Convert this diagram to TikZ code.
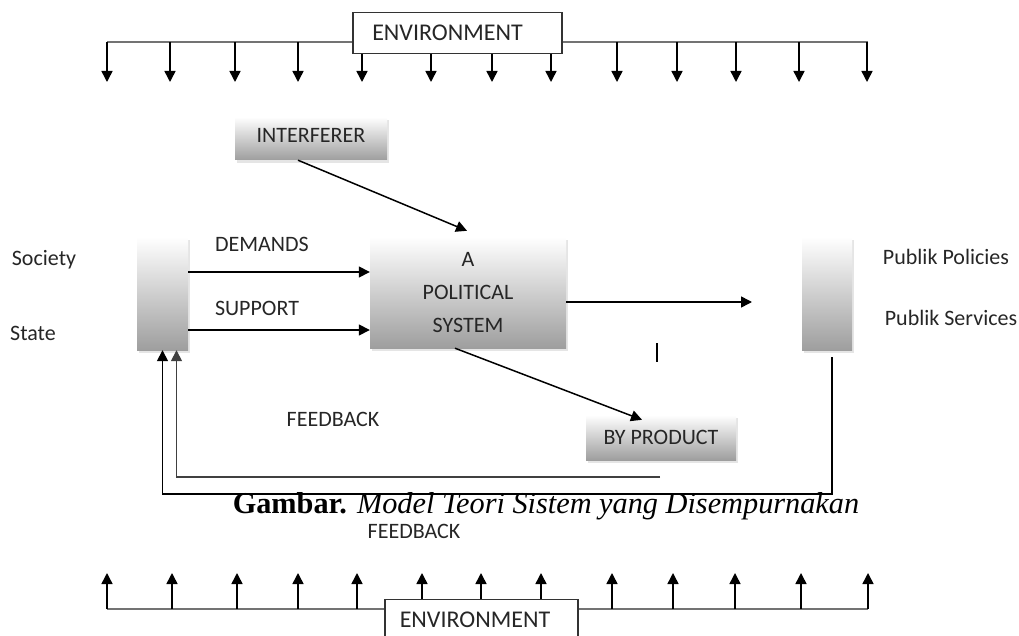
\documentclass[tikz,border=0pt]{standalone}
\usepackage{fontspec}
\setmainfont{Carlito}
\newfontfamily\capfont{Liberation Serif}
\usetikzlibrary{arrows.meta,shadows}

\begin{document}
\begin{tikzpicture}[x=1pt,y=-1pt,
  txt/.style={font=\fontsize{22}{26}\selectfont, text=black!85, inner sep=0pt},
  envbox/.style={draw=black!80, line width=1.2pt, fill=white, inner sep=0pt,
    font=\fontsize{24}{28}\selectfont, text=black!85, minimum width=#1, minimum height=41pt},
  gbox/.style={top color=white, bottom color=black!38, inner sep=0pt,
    drop shadow={shadow xshift=2pt, shadow yshift=-3pt, opacity=.25, fill=black!40}},
  envline/.style={draw=black!55, line width=2pt},
  arr/.style={draw=black, line width=1.5pt, -{Triangle[length=11pt,width=11pt]}},
  fbline/.style={arr, draw=black!75},
]
\useasboundingbox (0,0) rectangle (1019,636);

% environment bar above the system
\node[envbox=209pt] (envtop) at (457.5,33) {\hspace*{-20pt}ENVIRONMENT};
\draw[envline] (107,42) -- (envtop.west |- 0,42);
\draw[envline] (envtop.east |- 0,42) -- (868,42);
\foreach \x in {107,170,235,298,617,677,736,799,867}
  \draw[arr] (\x,42) -- (\x,82);
\foreach \x in {362,431,492,551}
  \draw[arr] (envtop.south -| \x,0) -- (\x,82);

% environment bar below the system
\node[envbox=193pt, anchor=north] (envbot) at (481.5,599) {\hspace*{-13pt}\raisebox{-6pt}{ENVIRONMENT}};
\draw[envline] (107,609) -- (envbot.west |- 0,609);
\draw[envline] (envbot.east |- 0,609) -- (868,609);
\foreach \x in {107,172,237,298,357,612,673,735,801,868}
  \draw[arr] (\x,609) -- (\x,573);
\foreach \x in {422,481,541}
  \draw[arr] (envbot.north -| \x,0) -- (\x,573);

% shaded boxes
\node[gbox, minimum width=51pt, minimum height=113pt] (srcbox) at (162.5,293.5) {};
\node[gbox, minimum width=50pt, minimum height=113pt] (outbox) at (827,293.5) {};
\node[gbox, txt, font=\fontsize{22}{33}\selectfont,
  minimum width=196pt, minimum height=111pt] (polsys) at (468,292.5)
  {\raisebox{4pt}{\begin{tabular}{@{}c@{}}A\\POLITICAL\\SYSTEM\end{tabular}}};
\node[gbox, txt, minimum width=152pt, minimum height=43pt] (interf) at (311,138.5) {\raisebox{6pt}{INTERFERER}};
\node[gbox, txt, minimum width=150pt, minimum height=45pt] (byprod) at (661,437.5) {BY PRODUCT};

% inputs, output and side effects
\draw[arr] (srcbox.east |- 0,272) -- (polsys.west |- 0,272);
\draw[arr] (srcbox.east |- 0,330) -- (polsys.west |- 0,330);
\coordinate (outtip) at (752,302);
\draw[arr] (polsys.east |- 0,302) -- (outtip);
\draw[arr] ([xshift=-13pt]interf.south) -- ([xshift=-1pt,yshift=6pt]polsys.north);
\draw[arr] ([xshift=-13pt]polsys.south) -- ([xshift=-19pt,yshift=-5pt]byprod.north);
\draw[black, line width=1.5pt] (657,343) -- (657,362);

% feedback loops
\coordinate (fbstart) at (660,477);
\draw[fbline] (fbstart) -| ([xshift=14pt]srcbox.south);
\draw[arr] ([xshift=5pt,yshift=-7pt]outbox.south) |- ([yshift=-144pt]srcbox.south) -- (srcbox.south);

% labels
\node[txt] (ldem) at (262,244) {DEMANDS};
\node[txt] (lsup) at (257,308) {SUPPORT};
\node[txt] (lfb1) at (333,419) {FEEDBACK};
\node[txt] (lfb2) at (414,531) {FEEDBACK};
\node[txt] (lsoc) at (44,260) {Society};
\node[txt] (lsta) at (33,333) {State};
\node[txt] (lpol) at (946,257) {Publik Policies};
\node[txt] (lser) at (951,318) {Publik Services};

% caption
\node[inner sep=0pt, font=\capfont\fontsize{30.3}{34}\selectfont] (cap) at (546,506)
  {\textbf{Gambar.} \textit{Model Teori Sistem yang Disempurnakan}};
\end{tikzpicture}
\end{document}
